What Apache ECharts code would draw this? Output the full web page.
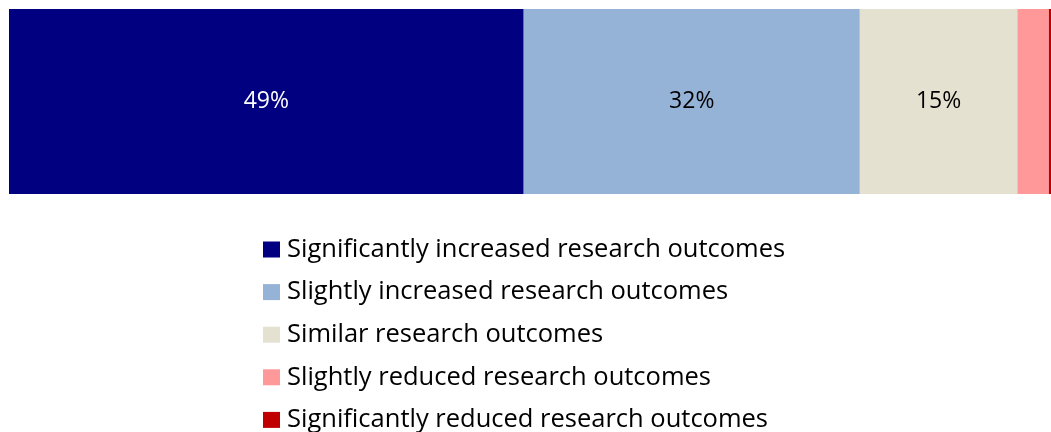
<!DOCTYPE html>
<html>
<head>
<meta charset="utf-8">
<style>
  html, body { margin: 0; padding: 0; background: #ffffff; }
  #chart { width: 1051px; height: 432px; }
</style>
<script src="https://cdn.jsdelivr.net/npm/echarts@6/dist/echarts.min.js"></script>
</head>
<body>
<div id="chart"></div>
<script>
// Share of respondents by reported change in research outcomes (percent)
const categories = ['Research outcomes'];
const seriesNames = [
  'Significantly increased research outcomes',
  'Slightly increased research outcomes',
  'Similar research outcomes',
  'Slightly reduced research outcomes',
  'Significantly reduced research outcomes'
];
const seriesValues = [49, 32, 15, 3, 0.2];
const showLabel = [true, true, true, false, false];
const colors = ['#000080', '#95B3D7', '#E5E1D1', '#FF9999', '#C00000'];
const labelColors = ['#ffffff', '#000000', '#000000', '#000000', '#ffffff'];

const total = seriesValues.reduce((a, b) => a + b, 0);
const fontFamily = '"Open Sans", "Noto Sans", sans-serif';

const series = seriesNames.map((name, i) => ({
  name: name,
  type: 'bar',
  stack: 'total',
  barWidth: '100%',
  data: [seriesValues[i]],
  itemStyle: { color: colors[i] },
  label: {
    show: showLabel[i],
    position: 'inside',
    formatter: (p) => p.value + '%',
    color: labelColors[i],
    fontFamily: fontFamily,
    fontSize: 23
  },
  emphasis: { disabled: true }
}));

const chart = echarts.init(document.getElementById('chart'), null, { renderer: 'canvas' });
chart.setOption({
  animation: false,
  grid: { left: 9, top: 9, right: 0, height: 185, containLabel: false },
  xAxis: { type: 'value', min: 0, max: total, show: false },
  yAxis: { type: 'category', data: categories, show: false },
  legend: {
    orient: 'vertical',
    left: 263,
    top: 236.5,
    height: 230,
    padding: 0,
    itemWidth: 17,
    itemHeight: 16,
    itemGap: 16.6,
    icon: 'rect',
    textStyle: { fontFamily: fontFamily, fontSize: 25.5, color: '#000000', padding: [0, 0, 0, 2] },
    data: seriesNames
  },
  series: series
});
</script>
</body>
</html>
